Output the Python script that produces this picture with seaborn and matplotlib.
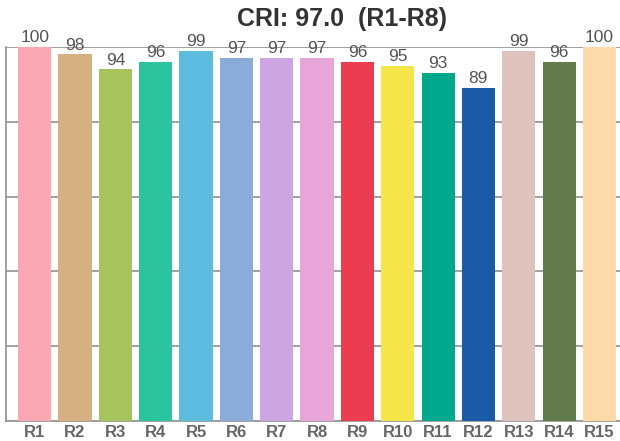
import pandas as pd
import seaborn as sns
import matplotlib.pyplot as plt

labels = ['R1', 'R2', 'R3', 'R4', 'R5', 'R6', 'R7', 'R8', 'R9', 'R10', 'R11', 'R12', 'R13', 'R14', 'R15']
values = [100, 98, 94, 96, 99, 97, 97, 97, 96, 95, 93, 89, 99, 96, 100]
colors = ['#F9A8B1', '#D6B083', '#A6C45E', '#2CC39F', '#5CBDDE', '#8AACD9', '#CDA5E3', '#E8A5D8', '#EC3C50',
          '#F5E548', '#00A98B', '#1B5AA7', '#DFC2BB', '#627B4A', '#FED9A9']
title = 'CRI: 97.0  (R1-R8)'

df = pd.DataFrame({'label': labels, 'value': values})

sns.set_style('white')
plt.rcParams['font.family'] = ['Liberation Sans', 'DejaVu Sans']

f = plt.figure(figsize = (6.2, 4.41), dpi = 100)
ax = f.add_axes([6 / 620, 20 / 441, 616 / 620, 374 / 441])

sns.barplot(x = 'label', y = 'value', data = df, hue = 'label', palette = colors, legend = False,
            width = 0.82, saturation = 1, linewidth = 0, ax = ax, zorder = 3)

for i, v in enumerate(values):
    ax.text(i, v + 0.5, str(v), ha = 'center', va = 'bottom', fontsize = 12.5, color = '#555555')

ax.set_ylim(0, 100)
ax.set_xlim(-0.71, 14.56)
ax.set_yticks([0, 20, 40, 60, 80, 100])
ax.set_yticklabels([])
ax.yaxis.grid(True, color = '#999999', linewidth = 1.3, zorder = 0)
ax.set_axisbelow(True)
ax.set_xlabel('')
ax.set_ylabel('')
ax.tick_params(axis = 'x', length = 0, pad = 3)
ax.tick_params(axis = 'y', length = 0)
plt.xticks(fontsize = 12, fontweight = 'bold', color = '#666666')

for s in ['top', 'right']:
    ax.spines[s].set_visible(False)
for s in ['left', 'bottom']:
    ax.spines[s].set_color('#999999')
    ax.spines[s].set_linewidth(1.3)

f.text(342 / 620, 1 - 19 / 441, title, ha = 'center', va = 'center', fontsize = 18, fontweight = 'bold', color = '#333333')

f.savefig('out.png', dpi = 100)
